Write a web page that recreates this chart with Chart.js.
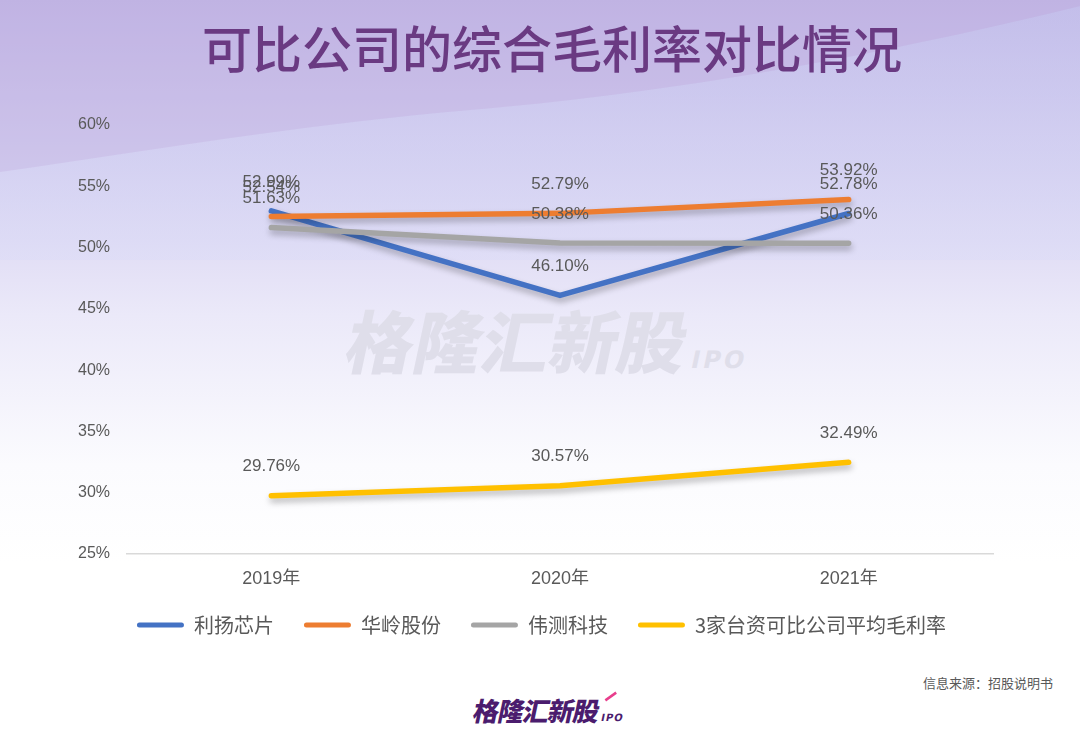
<!DOCTYPE html>
<html>
<head>
<meta charset="utf-8">
<script src="https://cdn.jsdelivr.net/npm/chart.js@4/dist/chart.umd.min.js"></script>
<style>
  html, body { margin:0; padding:0; width:1080px; height:750px; overflow:hidden; background:#fff; }
  #wrap { position:relative; width:1080px; height:750px; }
  #bg { position:absolute; left:0; top:0; }
  #title { position:absolute; left:0; top:12px; width:1104px; text-align:center; font-family:"Noto Sans CJK SC"; font-size:50px; font-weight:500; color:#6a3a82; line-height:68px; }
  #wm { position:absolute; left:348px; top:289px; font-family:"Noto Sans CJK SC"; font-weight:900; font-size:68px; color:#dfdeea; transform:skewX(-12deg); white-space:nowrap; letter-spacing:0px; }
  #wm span { font-size:24px; font-family:"DejaVu Sans"; font-weight:bold; margin-left:8px; letter-spacing:3px; }
  #src { position:absolute; right:27px; top:673px; font-family:"Noto Sans CJK SC"; font-size:13px; color:#595959; }
  #logo { position:absolute; left:474px; top:691px; font-family:"Noto Sans CJK SC"; font-weight:900; font-size:26px; color:#4b1c6e; transform:skewX(-12deg); white-space:nowrap; letter-spacing:-1px; }
  #logo span { font-size:10px; font-family:"DejaVu Sans"; font-weight:bold; margin-left:4px; letter-spacing:1px; }
  #logo i { position:absolute; left:128px; top:4px; width:12px; height:3px; background:#e83e8c; transform:rotate(-40deg); }
  canvas#c { position:absolute; left:0; top:0; }
</style>
</head>
<body>
<div id="wrap">
<svg id="bg" width="1080" height="750" xmlns="http://www.w3.org/2000/svg">
  <defs>
    <linearGradient id="g1" x1="0" y1="0" x2="0" y2="1">
      <stop offset="0" stop-color="#c1b4e4"/>
      <stop offset="0.22" stop-color="#d5cff0"/>
      <stop offset="0.42" stop-color="#ebe9f9"/>
      <stop offset="0.62" stop-color="#fbfbfe"/>
      <stop offset="0.75" stop-color="#ffffff"/>
      <stop offset="1" stop-color="#ffffff"/>
    </linearGradient>
    <linearGradient id="g2" x1="0" y1="0" x2="0" y2="1">
      <stop offset="0" stop-color="#c5c7f0"/>
      <stop offset="1" stop-color="#dcdcf7"/>
    </linearGradient>
  </defs>
  <rect x="0" y="0" width="1080" height="750" fill="url(#g1)"/>
  <path d="M1080 6 C 900 50, 700 90, 470 110 C 300 125, 150 150, 0 172 L 0 260 L 1080 260 Z" fill="url(#g2)" opacity="0.5"/>
  <path d="M0 172 C 150 150, 300 125, 470 110 C 700 90, 900 50, 1080 6 L 1080 0 L 0 0 Z" fill="#bfb2e3" opacity="0.35"/>
</svg>
<div id="title">可比公司的综合毛利率对比情况</div>
<div id="wm">格隆汇新股<span>IPO</span></div>
<div id="src">信息来源：招股说明书</div>
<div id="logo">格隆汇新股<span>IPO</span><i></i></div>
<canvas id="c" width="1080" height="750"></canvas>
</div>
<script>
const categories = ['2019年', '2020年', '2021年'];
const seriesNames = ['利扬芯片', '华岭股份', '伟测科技', '3家台资可比公司平均毛利率'];
const liyang = [52.99, 46.10, 52.78];
const hualing = [52.54, 52.79, 53.92];
const weice = [51.63, 50.38, 50.36];
const taiwanAvg = [29.76, 30.57, 32.49];
const yTicks = [25, 30, 35, 40, 45, 50, 55, 60];
const colors = ['#4472C4', '#ED7D31', '#A5A5A5', '#FFC000'];

const seriesValues = [liyang, hualing, weice, taiwanAvg];

const shadowPlugin = {
  id: 'shadow',
  beforeDatasetDraw(chart) {
    const ctx = chart.ctx;
    ctx.save();
    ctx.shadowColor = 'rgba(0,0,0,0.28)';
    ctx.shadowBlur = 6;
    ctx.shadowOffsetX = 1;
    ctx.shadowOffsetY = 4;
  },
  afterDatasetDraw(chart) {
    chart.ctx.restore();
  }
};

const legendShift = {
  id: 'legendShift',
  afterLayout(chart) {
    if (chart.legend) {
      chart.legend.left += 45;
      chart.legend.right += 45;
    }
  }
};

const labelPlugin = {
  id: 'valueLabels',
  afterDatasetsDraw(chart) {
    const ctx = chart.ctx;
    ctx.save();
    ctx.font = '17px "Liberation Sans", Arial, sans-serif';
    ctx.fillStyle = '#595959';
    ctx.textAlign = 'center';
    ctx.textBaseline = 'middle';
    chart.data.datasets.forEach((ds, i) => {
      const meta = chart.getDatasetMeta(i);
      meta.data.forEach((pt, j) => {
        ctx.fillText(ds.data[j].toFixed(2) + '%', pt.x, pt.y - 29);
      });
    });
    ctx.restore();
  }
};

const datasets = seriesNames.map((name, i) => ({
  label: name,
  data: seriesValues[i],
  borderColor: colors[i],
  backgroundColor: colors[i],
  borderWidth: 5.5,
  borderCapStyle: 'round',
  borderJoinStyle: 'round',
  pointRadius: 0,
  pointHoverRadius: 0,
  tension: 0,
  fill: false,
  order: 3 - i
}));

new Chart(document.getElementById('c'), {
  type: 'line',
  data: { labels: categories, datasets },
  options: {
    responsive: false,
    animation: false,
    events: [],
    layout: { padding: { left: 0, right: 87, top: 125, bottom: 105 } },
    scales: {
      x: {
        offset: true,
        grid: { display: false, drawTicks: false },
        border: { display: true, color: '#d9d9d9', width: 1.5 },
        ticks: { color: '#595959', font: { family: '"Liberation Sans", "Noto Sans CJK SC"', size: 18 }, padding: 14 },
        afterFit(scale) { scale.height = 31; }
      },
      y: {
        min: 25, max: 60,
        afterBuildTicks(axis) { axis.ticks = yTicks.map(v => ({ value: v })); },
        grid: { display: false, drawTicks: false },
        border: { display: false },
        ticks: {
          color: '#595959',
          font: { family: '"Liberation Sans"', size: 16 },
          padding: 17,
          callback: v => v + '%'
        },
        afterFit(scale) { scale.width = 127; }
      }
    },
    plugins: {
      tooltip: { enabled: false },
      legend: {
        position: 'bottom',
        labels: {
          sort: (a, b) => a.datasetIndex - b.datasetIndex,
          boxWidth: 47,
          boxHeight: 5,
          color: '#595959',
          padding: 30,
          font: { family: '"Noto Sans CJK SC"', size: 20 },
          generateLabels(chart) {
            return chart.data.datasets.map((ds, i) => ({
              text: ds.label,
              fillStyle: ds.borderColor,
              strokeStyle: ds.borderColor,
              lineWidth: 0,
              borderRadius: 2.5,
              datasetIndex: i,
              fontColor: '#595959'
            }));
          }
        }
      }
    }
  },
  plugins: [shadowPlugin, legendShift, labelPlugin]
});
</script>
</body>
</html>
